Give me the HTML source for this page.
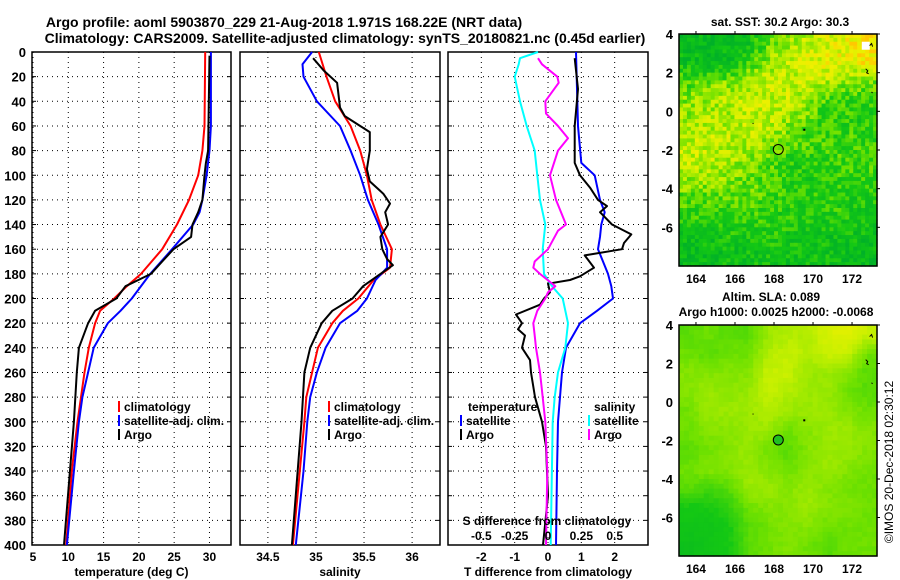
<!DOCTYPE html>
<html><head><meta charset="utf-8"><style>
html,body{margin:0;padding:0;background:#fff;}
svg{display:block;font-family:"Liberation Sans",sans-serif;font-weight:bold;}
</style></head><body>
<svg id="c" width="900" height="580" viewBox="0 0 900 580" xmlns="http://www.w3.org/2000/svg">
<text x="284" y="27" font-size="14" text-anchor="middle">Argo profile: aoml 5903870_229 21-Aug-2018 1.971S 168.22E (NRT data)</text>
<text x="345" y="43" font-size="14" text-anchor="middle">Climatology: CARS2009. Satellite-adjusted climatology: synTS_20180821.nc (0.45d earlier)</text>
<text x="780" y="26" font-size="12" text-anchor="middle">sat. SST: 30.2 Argo: 30.3</text>
<text x="771" y="301" font-size="12" text-anchor="middle">Altim. SLA: 0.089</text>
<text x="776" y="316" font-size="12" text-anchor="middle">Argo h1000: 0.0025 h2000: -0.0068</text>
<text transform="translate(893,462) rotate(-90)" font-size="12" font-weight="normal" text-anchor="middle">©IMOS 20-Dec-2018 02:30:12</text>
<g id="g"></g>
</svg>
<script>
// ---- data ----
const depthTicks=[0,20,40,60,80,100,120,140,160,180,200,220,240,260,280,300,320,340,360,380,400];
const tempTicks=[5,10,15,20,25,30];
const salTicks=[34.5,35,35.5,36];
const tdiffTicks=[-2,-1,0,1,2];
const sdiffTicks=[-0.5,-0.25,0,0.25,0.5];
const sdiffTickLabels=["-0.5","-0.25","0","0.25","0.5"];
const lonTicks=[164,166,168,170,172];
const latTicks=[4,2,0,-2,-4,-6];

const climTdepth=[0,60,80,100,120,140,160,180,190,200,210,220,240,260,280,300,340,400];
const climT=[29.4,29.3,29.0,28.4,27.1,25.4,23.3,20.3,18.3,16.5,14.5,13.8,12.9,12.3,11.8,11.3,10.5,9.7];
const satTdepth=[0,60,80,100,120,130,140,160,180,200,210,220,240,260,280,300,340,400];
const satT=[30.2,30.2,30.0,29.6,29.0,28.6,27.7,24.7,21.6,19.0,17.4,15.6,13.6,12.8,12.0,11.5,10.8,9.8];
const argoTdepth=[3,80,90,100,120,130,140,150,160,170,180,190,200,210,220,240,260,300,400];
const argoT=[30.0,29.8,29.5,29.3,29.0,28.4,27.6,27.4,24.9,23.3,21.7,18.1,16.8,13.8,12.8,11.5,11.2,10.8,9.4];

const climSdepth=[0,20,40,60,80,100,120,140,160,175,185,200,210,220,240,260,280,300,400];
const climS=[35.03,35.11,35.2,35.36,35.46,35.53,35.58,35.67,35.79,35.77,35.6,35.44,35.28,35.17,35.02,34.96,34.9,34.88,34.76];
const satSdepth=[0,10,20,40,60,80,100,120,140,160,175,185,200,210,220,240,260,280,300,340,400];
const satS=[34.96,34.86,34.87,35.01,35.25,35.36,35.46,35.54,35.65,35.74,35.74,35.62,35.53,35.43,35.25,35.1,35.01,34.94,34.91,34.87,34.79];
const argoSdepth=[5,15,25,45,52,60,65,80,95,105,115,123,130,140,150,160,168,173,180,190,200,210,220,240,260,300,400];
const argoS=[34.97,35.08,35.22,35.25,35.3,35.46,35.56,35.56,35.53,35.56,35.7,35.77,35.72,35.75,35.67,35.69,35.74,35.8,35.67,35.49,35.38,35.17,35.06,34.94,34.88,34.85,34.75];

const satTdDepth=[0,60,90,100,120,130,140,150,160,170,180,190,200,210,220,240,260,280,300,340,400];
const satTd=[0.84,0.9,1.0,1.4,1.56,1.7,1.6,1.56,1.5,1.65,1.8,1.9,1.95,1.47,0.96,0.54,0.42,0.36,0.3,0.27,0.24];
const argoTdDepth=[5,30,60,90,100,110,120,125,130,140,148,155,160,165,175,182,185,188,195,200,205,213,220,225,230,240,250,260,280,300,320,360,400];
const argoTd=[0.8,0.9,0.8,0.8,0.96,1.26,1.5,1.77,1.56,1.92,2.5,2.28,2.22,1.1,1.38,0.96,0.66,0.0,0.06,-0.12,-0.24,-0.96,-0.78,-0.9,-0.69,-0.78,-0.54,-0.51,-0.39,-0.18,-0.06,0.0,-0.15];
const satSdDepth=[0,5,10,20,40,60,80,100,120,140,160,180,190,200,220,240,260,280,300,400];
const satSd=[-0.075,-0.21,-0.22,-0.25,-0.21,-0.16,-0.1,-0.08,-0.06,-0.02,-0.04,-0.03,0.03,0.11,0.15,0.13,0.075,0.05,0.035,0.02];
const argoSdDepth=[5,10,20,25,40,50,60,70,80,100,120,140,145,160,170,175,180,190,195,200,210,220,230,240,260,280,300,340,400];
const argoSd=[-0.075,-0.045,0.07,0.08,-0.02,-0.015,0.075,0.15,0.075,0.015,0.06,0.135,0.075,0.0,-0.1,-0.11,-0.06,0.055,0.0,-0.02,-0.08,-0.11,-0.1,-0.09,-0.06,-0.04,-0.02,-0.005,-0.015];

const sstGrid=[
[0.15,0.12,0.15,0.2,0.45,0.6,0.7,0.75,0.85,0.95],
[0.18,0.15,0.2,0.4,0.6,0.7,0.75,0.8,0.8,0.85],
[0.45,0.5,0.55,0.65,0.7,0.7,0.7,0.65,0.55,0.5],
[0.55,0.6,0.65,0.7,0.7,0.7,0.6,0.4,0.35,0.35],
[0.6,0.65,0.65,0.7,0.7,0.6,0.45,0.35,0.35,0.3],
[0.65,0.7,0.7,0.65,0.6,0.5,0.45,0.4,0.4,0.35],
[0.7,0.7,0.65,0.55,0.45,0.35,0.3,0.35,0.4,0.4],
[0.6,0.6,0.55,0.5,0.45,0.3,0.3,0.35,0.35,0.35],
[0.45,0.45,0.45,0.45,0.4,0.35,0.35,0.35,0.3,0.3],
[0.35,0.35,0.35,0.35,0.35,0.3,0.3,0.3,0.3,0.25],
[0.2,0.2,0.25,0.25,0.3,0.25,0.25,0.2,0.2,0.2],
[0.15,0.15,0.2,0.2,0.25,0.2,0.2,0.2,0.15,0.15]];
const slaGrid=[
[0.45,0.5,0.45,0.45,0.6,0.65,0.65,0.75,0.8,0.7],
[0.5,0.45,0.5,0.5,0.65,0.7,0.65,0.7,0.7,0.5],
[0.55,0.55,0.55,0.55,0.7,0.7,0.6,0.6,0.55,0.45],
[0.55,0.6,0.55,0.6,0.7,0.65,0.6,0.6,0.5,0.45],
[0.5,0.6,0.6,0.6,0.65,0.6,0.6,0.6,0.55,0.5],
[0.5,0.55,0.55,0.6,0.6,0.5,0.55,0.6,0.6,0.55],
[0.45,0.5,0.55,0.6,0.5,0.45,0.55,0.6,0.6,0.55],
[0.5,0.55,0.55,0.6,0.55,0.5,0.55,0.6,0.55,0.5],
[0.45,0.4,0.45,0.6,0.6,0.55,0.6,0.55,0.5,0.5],
[0.3,0.3,0.35,0.5,0.55,0.55,0.6,0.55,0.55,0.5],
[0.25,0.25,0.3,0.45,0.5,0.55,0.55,0.5,0.5,0.5],
[0.2,0.25,0.3,0.45,0.5,0.55,0.5,0.45,0.5,0.5]];
const floatLon=168.22, floatLat=-1.971;

// ---- drawing ----
const NS="http://www.w3.org/2000/svg";
const G=document.getElementById('g');
function el(tag,attrs,parent){const e=document.createElementNS(NS,tag);for(const k in attrs)e.setAttribute(k,attrs[k]);(parent||G).appendChild(e);return e;}
function txt(s,x,y,size,anchor,parent){const t=el('text',{x:x,y:y,'font-size':size,'text-anchor':anchor||'middle'},parent);t.textContent=s;return t;}
const Y0=52,Y1=545;
const yD=d=>Y0+(d/400)*(Y1-Y0);
function lin(d0,d1,r0,r1){return v=>r0+(v-d0)/(d1-d0)*(r1-r0);}

const panels=[
 {name:'temperature-panel',x0:32,x1:231,sc:lin(4.86,33.05,32,231),ticks:tempTicks,title:'temperature (deg C)'},
 {name:'salinity-panel',x0:240,x1:440,sc:lin(34.21,36.29,240,440),ticks:salTicks,title:'salinity'},
 {name:'difference-panel',x0:448,x1:648,sc:lin(-3,3,448,648),ticks:tdiffTicks,title:'T difference from climatology'}];
panels.forEach((p,pi)=>{
  const g=el('g',{});
  
  
  depthTicks.forEach(d=>{ if(d>0&&d<400) el('line',{x1:p.x0,x2:p.x1,y1:yD(d),y2:yD(d),stroke:'#000','stroke-dasharray':'1,4','stroke-width':1},g);
    el('line',{x1:p.x0,x2:p.x0+4,y1:yD(d),y2:yD(d),stroke:'#000'},g);
    el('line',{x1:p.x1-4,x2:p.x1,y1:yD(d),y2:yD(d),stroke:'#000'},g);
    if(pi===0){const t=txt(String(d),26,yD(d)+5,13,'end',g);}
  });
  p.ticks.forEach(v=>{const x=p.sc(v);
    el('line',{x1:x,x2:x,y1:Y0,y2:Y1,stroke:'#000','stroke-dasharray':'1,4'},g);
    const t=txt(String(v),x,561,12,'middle',g);
    
  });
  el('rect',{x:p.x0,y:Y0,width:p.x1-p.x0,height:Y1-Y0,fill:'none',stroke:'#000','stroke-width':1.5},g);
  const tt=txt(p.title,(p.x0+p.x1)/2,576,12,'middle',g);
  
});
function series(name,depths,vals,sc,color){
  const pts=depths.map((d,i)=>sc(vals[i]).toFixed(1)+','+yD(d).toFixed(1)).join(' ');
  const pl=el('polyline',{points:pts,fill:'none',stroke:color,'stroke-width':2,'stroke-linejoin':'round'});
  
  
}
const tS=panels[0].sc,sS=panels[1].sc,dS=panels[2].sc,sdS=lin(-0.75,0.75,448,648);
series('temp-climatology-line',climTdepth,climT,tS,'#f00');
series('temp-satellite-line',satTdepth,satT,tS,'#00f');
series('temp-argo-line',argoTdepth,argoT,tS,'#000');
series('sal-climatology-line',climSdepth,climS,sS,'#f00');
series('sal-satellite-line',satSdepth,satS,sS,'#00f');
series('sal-argo-line',argoSdepth,argoS,sS,'#000');
series('tdiff-satellite-line',satTdDepth,satTd,dS,'#00f');
series('tdiff-argo-line',argoTdDepth,argoTd,dS,'#000');
series('sdiff-satellite-line',satSdDepth,satSd,sdS,'#0ff');
series('sdiff-argo-line',argoSdDepth,argoSd,sdS,'#f0f');
// S diff axis labels
const sl=txt('S difference from climatology',547,525,12,'middle');

sdiffTicks.forEach((v,i)=>{const t=txt(sdiffTickLabels[i],sdS(v),540,12,'middle');
  });
// legends
function leg(name,x,y,color,label){const g=el('g',{});
  
  el('rect',{x:x,y:y-10,width:2,height:11,fill:color},g);txt(label,x+6,y,12,'start',g);}
leg('legend-climatology',118,411,'#f00','climatology');
leg('legend-satellite-adj',118,425,'#00f','satellite-adj. clim.');
leg('legend-argo',118,439,'#000','Argo');
leg('legend-sal-climatology',328,411,'#f00','climatology');
leg('legend-sal-satellite-adj',328,425,'#00f','satellite-adj. clim.');
leg('legend-sal-argo',328,439,'#000','Argo');
txt('temperature',468,411,12,'start');
leg('legend-tdiff-satellite',460,425,'#00f','satellite');
leg('legend-tdiff-argo',460,439,'#000','Argo');
txt('salinity',594,411,12,'start');
leg('legend-sdiff-satellite',588,425,'#0ff','satellite');
leg('legend-sdiff-argo',588,439,'#f0f','Argo');

// maps
function cmap(v){const stops=[[0,[0,176,40]],[0.3,[20,200,20]],[0.5,[110,225,0]],[0.7,[200,240,0]],[0.85,[240,240,0]],[1,[255,200,0]]];
  v=Math.max(0,Math.min(1,v));for(let i=1;i<stops.length;i++){if(v<=stops[i][0]){const a=stops[i-1],b=stops[i],t=(v-a[0])/(b[0]-a[0]);
  return 'rgb('+a[1].map((c,k)=>Math.round(c+(b[1][k]-c)*t)).join(',')+')';}}return 'rgb(255,200,0)';}
function hash(i,j){let h=(i*73856093)^(j*19349663);h=(h^(h>>>13))*1274126177;return ((h>>>0)%1000)/1000;}
function drawMap(name,grid,x0,x1,yTop,yBot,sub,jit,markerFill,white){
  const g=el('g',{});
  const lonS=lin(163.13,173.28,x0,x1),latS=lin(4,-8,yTop,yBot);
  const R=grid.length,C=grid[0].length,cw=(x1-x0)/C,ch=(yBot-yTop)/R;
  for(let r=0;r<R;r++)for(let c=0;c<C;c++)for(let a=0;a<sub;a++)for(let b=0;b<sub;b++){
    const fr=r+(a+0.5)/sub-0.5,fc=c+(b+0.5)/sub-0.5;
    const r0=Math.max(0,Math.floor(fr)),r1=Math.min(R-1,r0+1),c0=Math.max(0,Math.floor(fc)),c1=Math.min(C-1,c0+1);
    const tr=Math.max(0,Math.min(1,fr-r0)),tc=Math.max(0,Math.min(1,fc-c0));
    let v=(grid[r0][c0]*(1-tc)+grid[r0][c1]*tc)*(1-tr)+(grid[r1][c0]*(1-tc)+grid[r1][c1]*tc)*tr;
    v+=jit*(hash(r*sub+a,c*sub+b)-0.5);
    el('rect',{x:(x0+c*cw+b*cw/sub).toFixed(2),y:(yTop+r*ch+a*ch/sub).toFixed(2),width:(cw/sub+0.6).toFixed(2),height:(ch/sub+0.6).toFixed(2),fill:cmap(v)},g);
  }
  if(white) el('rect',{x:lonS(172.5),y:latS(3.6),width:8,height:8,fill:'#fff'},g);
  el('path',{d:'M'+lonS(172.9)+' '+latS(3.4)+' l2 -2 l1 3 M'+lonS(172.7)+' '+latS(2.2)+' l2 2 l-1 2 l2 1 M'+lonS(173)+' '+latS(1)+' l1 1',stroke:'#000','stroke-width':1,fill:'none'},g);
  el('rect',{x:lonS(169.5),y:latS(-0.9),width:2,height:2,fill:'#000'},g);
  el('rect',{x:lonS(166.9),y:latS(-0.6),width:1,height:1,fill:'#000'},g);
  el('rect',{x:x0,y:yTop,width:x1-x0,height:yBot-yTop,fill:'none',stroke:'#000','stroke-width':1.5},g);
  lonTicks.forEach(v=>{const x=lonS(v);el('line',{x1:x,x2:x,y1:yTop-3,y2:yTop,stroke:'#000'},g);
    const t=txt(String(v),x,yBot+17,12,'middle',g);});
  latTicks.forEach(v=>{const y=latS(v);el('line',{x1:x1,x2:x1+3,y1:y,y2:y,stroke:'#000'},g);
    const t=txt(String(v),x0-6,y+5,13,'end',g);});
  const m=el('circle',{cx:lonS(floatLon),cy:latS(floatLat),r:5,fill:markerFill,stroke:'#000','stroke-width':1},g);
  
}
drawMap('sst-map',sstGrid,679,877,34,266,5,0.35,'none',true);
drawMap('sla-map',slaGrid,679,877,325,556,4,0.04,'#20c020',false);
</script>
</body></html>
